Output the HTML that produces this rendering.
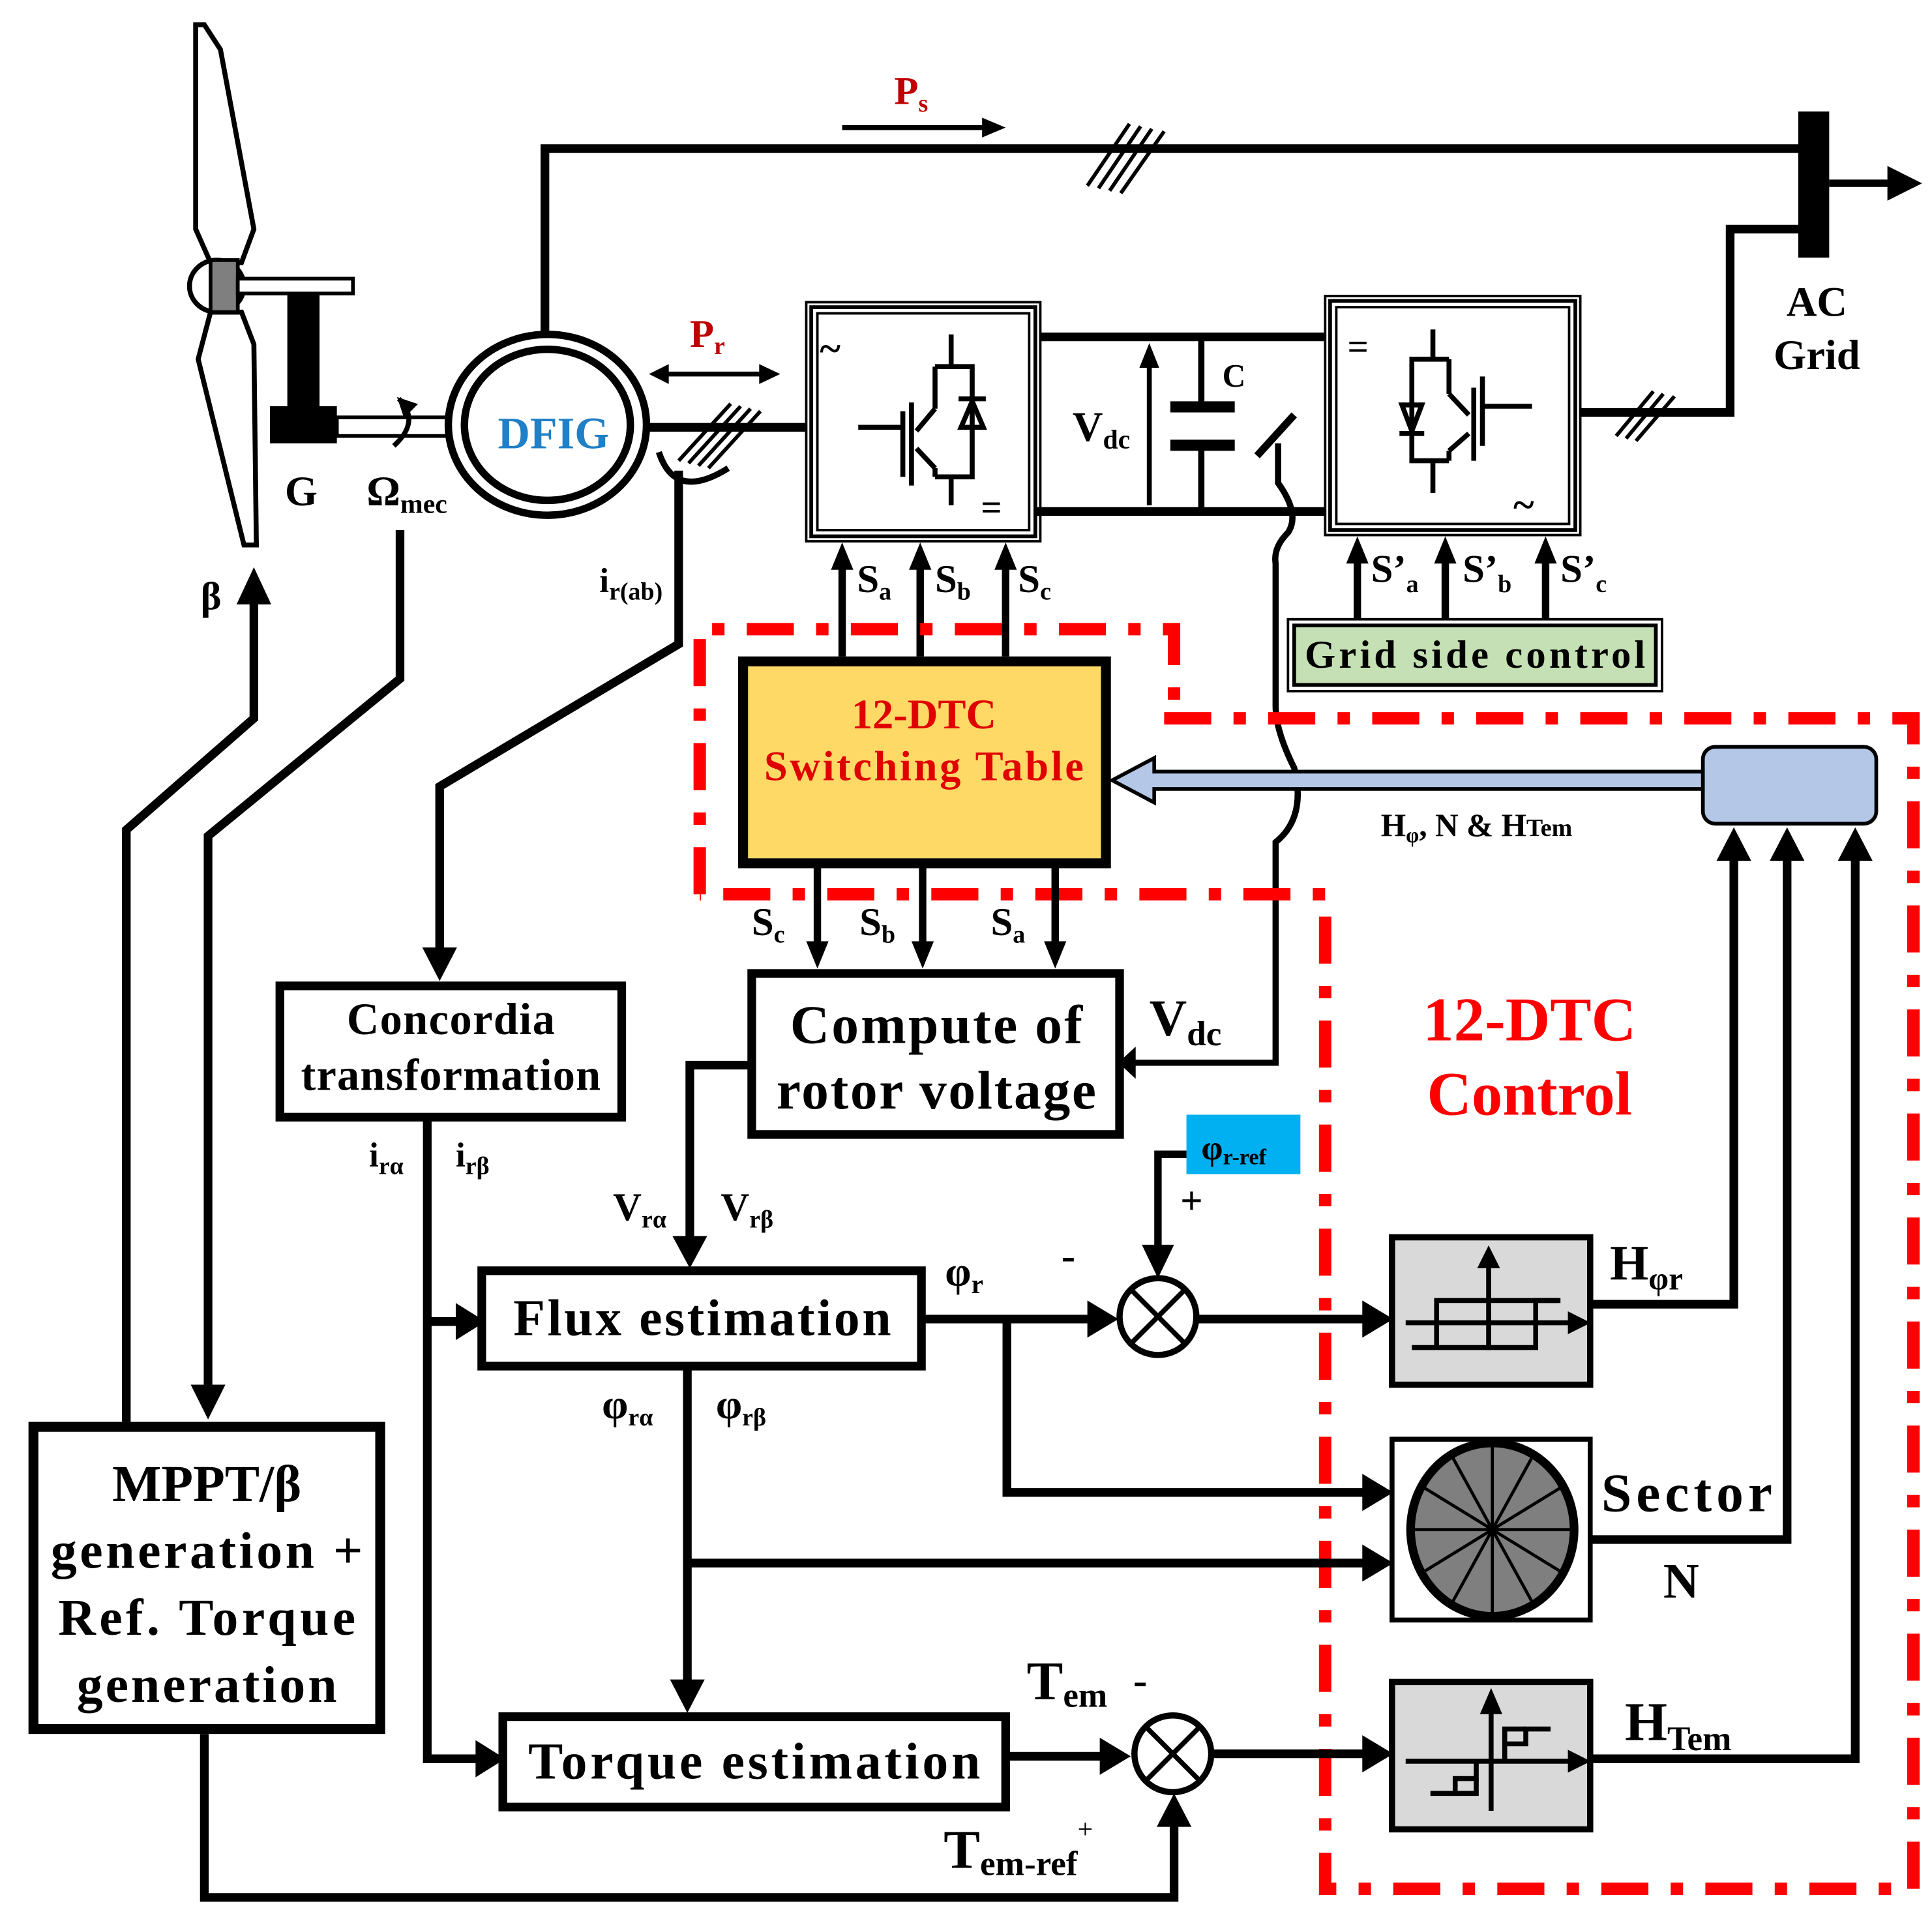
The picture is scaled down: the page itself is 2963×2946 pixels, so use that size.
<!DOCTYPE html>
<html><head><meta charset="utf-8"><style>
html,body{margin:0;padding:0;background:#fff}
svg{display:block}
text{font-family:"Liberation Serif",serif;font-weight:bold}
</style></head><body>
<svg width="2963" height="2946" viewBox="0 0 1560 1551" preserveAspectRatio="none" xmlns="http://www.w3.org/2000/svg">
<defs>
<marker id="ah" markerWidth="6" markerHeight="6" refX="5" refY="3" orient="auto" markerUnits="strokeWidth"><path d="M0,0 L6,3 L0,6 z" fill="#000"/></marker>
<marker id="ah2" markerWidth="4" markerHeight="4" refX="3.5" refY="2" orient="auto" markerUnits="strokeWidth"><path d="M0,0 L4,2 L0,4 z" fill="#000"/></marker>
</defs>
<rect width="1560" height="1551" fill="#fff"/>

<!-- Turbine -->
<polygon points="158,20 165,20 178,40 205,185 195,212 170,212 158,185" fill="#fff" stroke="#000" stroke-width="4"/>
<polygon points="170,252 195,252 205,278 207,440 197,440 160,290" fill="#fff" stroke="#000" stroke-width="4"/>
<ellipse cx="175" cy="231" rx="22" ry="21" fill="#fff" stroke="#000" stroke-width="4"/>
<rect x="170" y="210" width="22" height="42" fill="#7f7f7f" stroke="#000" stroke-width="3"/>
<rect x="192" y="225" width="93" height="12" fill="#fff" stroke="#000" stroke-width="3"/>
<rect x="232" y="237" width="26" height="95" fill="#000"/>
<rect x="218" y="328" width="54" height="30" fill="#000"/>
<rect x="272" y="337" width="105" height="15" fill="#fff" stroke="#000" stroke-width="3"/>
<text x="230" y="408" font-size="34">G</text>
<text x="296" y="408" font-size="34">Ω<tspan font-size="22" dy="6">mec</tspan></text>
<path d="M318,360 Q340,340 322,322" fill="none" stroke="#000" stroke-width="4" marker-end="url(#ah2)"/>

<!-- DFIG -->
<ellipse cx="442" cy="343" rx="80" ry="73" fill="#fff" stroke="#000" stroke-width="6"/>
<ellipse cx="442" cy="343" rx="67" ry="61" fill="#fff" stroke="#000" stroke-width="6"/>
<text x="447" y="362" font-size="36" fill="#1f7fc7" text-anchor="middle">DFIG</text>

<!-- stator line -->
<polyline points="440,270 440,120 1455,120" fill="none" stroke="#000" stroke-width="7"/>
<rect x="1452" y="90" width="25" height="118" fill="#000"/>
<line x1="1477" y1="148" x2="1528" y2="148" stroke="#000" stroke-width="6"/>
<polygon points="1524,134 1552,148 1524,162" fill="#000"/>
<text x="722" y="84" font-size="32" fill="#c00000">P<tspan font-size="20" dy="6">s</tspan></text>
<line x1="680" y1="103" x2="795" y2="103" stroke="#000" stroke-width="4"/>
<polygon points="793,95 812,103 793,111" fill="#000"/>
<g stroke="#000" stroke-width="3"><line x1="878" y1="150" x2="912" y2="100"/><line x1="887" y1="152" x2="921" y2="102"/><line x1="896" y1="154" x2="930" y2="104"/><line x1="905" y1="156" x2="940" y2="106"/></g>
<polyline points="1455,185 1397,185 1397,333 1275,333" fill="none" stroke="#000" stroke-width="7"/>
<g stroke="#000" stroke-width="3"><line x1="1305" y1="352" x2="1335" y2="316"/><line x1="1313" y1="354" x2="1343" y2="318"/><line x1="1321" y1="356" x2="1352" y2="320"/></g>
<text x="1467" y="255" font-size="34" text-anchor="middle">AC</text>
<text x="1467" y="298" font-size="34" text-anchor="middle">Grid</text>

<!-- rotor line -->
<line x1="520" y1="345" x2="655" y2="345" stroke="#000" stroke-width="7"/>
<text x="557" y="280" font-size="32" fill="#c00000">P<tspan font-size="20" dy="6">r</tspan></text>
<line x1="538" y1="302" x2="615" y2="302" stroke="#000" stroke-width="4"/>
<polygon points="540,294 524,302 540,310" fill="#000"/><polygon points="613,294 630,302 613,310" fill="#000"/>
<g stroke="#000" stroke-width="3"><line x1="548" y1="372" x2="590" y2="326"/><line x1="556" y1="374" x2="598" y2="328"/><line x1="564" y1="376" x2="606" y2="330"/><line x1="572" y1="378" x2="614" y2="332"/></g>
<path d="M532,365 Q545,405 588,378" fill="none" stroke="#000" stroke-width="5"/>
<text x="484" y="478" font-size="28">i<tspan font-size="20" dy="6">r(ab)</tspan></text>
<polyline points="548,380 548,520 355,635 355,770" fill="none" stroke="#000" stroke-width="7"/>
<polygon points="341,765 355,792 369,765" fill="#000"/>

<!-- Converter I -->
<rect x="651" y="244" width="189" height="193" fill="#fff" stroke="#000" stroke-width="2"/>
<rect x="655" y="248" width="181" height="185" fill="none" stroke="#000" stroke-width="3"/>
<rect x="660" y="253" width="171" height="175" fill="none" stroke="#000" stroke-width="2"/>
<text x="662" y="292" font-size="32" font-weight="normal">~</text>
<text x="792" y="420" font-size="30">=</text>
<g stroke="#000" stroke-width="4" fill="none">
<line x1="768" y1="270" x2="768" y2="296"/><polyline points="755,296 785,296 785,385 755,385"/><line x1="768" y1="385" x2="768" y2="408"/>
<line x1="755" y1="296" x2="755" y2="330"/><line x1="755" y1="330" x2="740" y2="348"/><line x1="740" y1="362" x2="755" y2="378"/><line x1="755" y1="378" x2="755" y2="385"/>
<line x1="736" y1="325" x2="736" y2="392"/><line x1="729" y1="332" x2="729" y2="385"/><line x1="693" y1="345" x2="729" y2="345"/>
<line x1="774" y1="322" x2="796" y2="322"/><polygon points="776,345 794,345 785,324"/>
</g>

<!-- DC link -->
<line x1="840" y1="272" x2="1070" y2="272" stroke="#000" stroke-width="7"/>
<line x1="836" y1="413" x2="1072" y2="413" stroke="#000" stroke-width="7"/>
<line x1="928" y1="408" x2="928" y2="295" stroke="#000" stroke-width="4"/>
<polygon points="920,297 928,277 936,297" fill="#000"/>
<text x="866" y="356" font-size="34">V<tspan font-size="22" dy="6">dc</tspan></text>
<line x1="970" y1="272" x2="970" y2="328" stroke="#000" stroke-width="5"/>
<rect x="945" y="324" width="52" height="9" fill="#000"/>
<rect x="945" y="355" width="52" height="9" fill="#000"/>
<line x1="970" y1="360" x2="970" y2="413" stroke="#000" stroke-width="5"/>
<text x="987" y="312" font-size="26">C</text>
<line x1="1015" y1="368" x2="1045" y2="335" stroke="#000" stroke-width="6"/>
<path d="M1032,358 L1032,390 Q1050,415 1040,430 Q1028,442 1030,455 L1030,570 Q1030,590 1045,620 Q1055,660 1030,680 L1030,858 L915,858" fill="none" stroke="#000" stroke-width="5"/>
<polygon points="917,845 903,858 917,871" fill="#000"/>

<!-- Converter II -->
<rect x="1070" y="239" width="206" height="193" fill="#fff" stroke="#000" stroke-width="2"/>
<rect x="1074" y="243" width="198" height="185" fill="none" stroke="#000" stroke-width="3"/>
<rect x="1079" y="248" width="188" height="175" fill="none" stroke="#000" stroke-width="2"/>
<text x="1088" y="290" font-size="30">=</text>
<text x="1222" y="418" font-size="32" font-weight="normal">~</text>
<g stroke="#000" stroke-width="4" fill="none">
<line x1="1157" y1="266" x2="1157" y2="290"/><polyline points="1170,290 1140,290 1140,372 1170,372"/><line x1="1157" y1="372" x2="1157" y2="398"/>
<line x1="1170" y1="290" x2="1170" y2="318"/><line x1="1170" y1="318" x2="1186" y2="335"/><line x1="1186" y1="350" x2="1170" y2="364"/><line x1="1170" y1="364" x2="1170" y2="372"/>
<line x1="1190" y1="313" x2="1190" y2="372"/><line x1="1197" y1="304" x2="1197" y2="360"/><line x1="1197" y1="328" x2="1237" y2="328"/>
<line x1="1130" y1="350" x2="1150" y2="350"/><polygon points="1132,327 1148,327 1140,348"/>
</g>

<!-- S arrows -->
<g stroke="#000" stroke-width="6">
<line x1="680" y1="530" x2="680" y2="455"/><line x1="743" y1="530" x2="743" y2="455"/><line x1="812" y1="530" x2="812" y2="455"/>
<line x1="1096" y1="500" x2="1096" y2="450"/><line x1="1167" y1="500" x2="1167" y2="450"/><line x1="1248" y1="500" x2="1248" y2="450"/>
</g>
<g fill="#000">
<polygon points="671,460 680,438 689,460"/><polygon points="734,460 743,438 752,460"/><polygon points="803,460 812,438 821,460"/>
<polygon points="1087,455 1096,433 1105,455"/><polygon points="1158,455 1167,433 1176,455"/><polygon points="1239,455 1248,433 1257,455"/>
</g>
<text x="692" y="478" font-size="32">S<tspan font-size="20" dy="6">a</tspan></text>
<text x="755" y="478" font-size="32">S<tspan font-size="20" dy="6">b</tspan></text>
<text x="822" y="478" font-size="32">S<tspan font-size="20" dy="6">c</tspan></text>
<text x="1107" y="470" font-size="32">S’<tspan font-size="20" dy="8">a</tspan></text>
<text x="1181" y="470" font-size="32">S’<tspan font-size="20" dy="8">b</tspan></text>
<text x="1260" y="470" font-size="32">S’<tspan font-size="20" dy="8">c</tspan></text>

<!-- Grid side control -->
<rect x="1040" y="500" width="302" height="58" fill="#fff" stroke="#000" stroke-width="2"/>
<rect x="1045" y="505" width="292" height="48" fill="#c5e0b4" stroke="#000" stroke-width="3"/>
<text x="1191" y="539" font-size="32" text-anchor="middle" textLength="275">Grid side control</text>

<!-- red dash-dot boundaries -->
<g fill="none" stroke="#ff0000" stroke-width="10" stroke-dasharray="38,18,10,18">
<polyline points="565,722 565,508 948,508 948,582"/>
<polyline points="940,580 1545,580 1545,1525 1070,1525 1070,722 565,722"/>
</g>

<!-- Switching table -->
<rect x="600" y="534" width="293" height="163" fill="#ffd966" stroke="#000" stroke-width="8"/>
<text x="746" y="588" font-size="34" fill="#e00000" text-anchor="middle">12-DTC</text>
<text x="746" y="630" font-size="34" fill="#e00000" text-anchor="middle" textLength="258">Switching Table</text>

<!-- blue box and arrow -->
<rect x="1375" y="603" width="140" height="62" rx="10" fill="#b4c7e7" stroke="#000" stroke-width="3"/>
<polygon points="1375,623 932,623 932,612 898,630 932,648 932,637 1375,637" fill="#b4c7e7" stroke="#000" stroke-width="3"/>
<text x="1115" y="675" font-size="26" font-weight="normal">H<tspan font-size="17" dy="5">φ</tspan><tspan dy="-5">, N &amp; H</tspan><tspan font-size="20">Tem</tspan></text>

<!-- Sc Sb Sa down -->
<g stroke="#000" stroke-width="6"><line x1="660" y1="697" x2="660" y2="765"/><line x1="745" y1="697" x2="745" y2="765"/><line x1="852" y1="697" x2="852" y2="765"/></g>
<g fill="#000"><polygon points="651,760 660,782 669,760"/><polygon points="736,760 745,782 754,760"/><polygon points="843,760 852,782 861,760"/></g>
<text x="607" y="755" font-size="32">S<tspan font-size="20" dy="6">c</tspan></text>
<text x="694" y="755" font-size="32">S<tspan font-size="20" dy="6">b</tspan></text>
<text x="800" y="755" font-size="32">S<tspan font-size="20" dy="6">a</tspan></text>

<!-- Compute box -->
<rect x="607" y="786" width="297" height="130" fill="#fff" stroke="#000" stroke-width="7"/>
<text x="756" y="842" font-size="44" text-anchor="middle" textLength="236">Compute of</text>
<text x="756" y="895" font-size="44" text-anchor="middle" textLength="258">rotor voltage</text>
<text x="928" y="836" font-size="42">V<tspan font-size="28" dy="8">dc</tspan></text>

<!-- Concordia -->
<rect x="226" y="796" width="276" height="106" fill="#fff" stroke="#000" stroke-width="7"/>
<text x="364" y="835" font-size="36" text-anchor="middle" textLength="168">Concordia</text>
<text x="364" y="880" font-size="36" text-anchor="middle" textLength="242">transformation</text>
<text x="298" y="942" font-size="28">i<tspan font-size="20" dy="6">rα</tspan></text>
<text x="368" y="942" font-size="28">i<tspan font-size="20" dy="6">rβ</tspan></text>
<polyline points="345,902 345,1420 390,1420" fill="none" stroke="#000" stroke-width="7"/>
<line x1="345" y1="1067" x2="372" y2="1067" stroke="#000" stroke-width="7"/>
<polygon points="368,1052 392,1067 368,1082" fill="#000"/>
<polygon points="384,1405 408,1420 384,1435" fill="#000"/>

<!-- Vr lines -->
<polyline points="607,860 557,860 557,1005" fill="none" stroke="#000" stroke-width="7"/>
<polygon points="543,998 557,1024 571,998" fill="#000"/>
<text x="495" y="985" font-size="32">V<tspan font-size="20" dy="6">rα</tspan></text>
<text x="582" y="985" font-size="32">V<tspan font-size="20" dy="6">rβ</tspan></text>

<!-- Flux -->
<rect x="389" y="1026" width="355" height="77" fill="#fff" stroke="#000" stroke-width="7"/>
<text x="567" y="1078" font-size="42" text-anchor="middle" textLength="305">Flux estimation</text>
<text x="486" y="1145" font-size="34">φ<tspan font-size="20" dy="6">rα</tspan></text>
<text x="578" y="1145" font-size="34">φ<tspan font-size="20" dy="6">rβ</tspan></text>
<text x="763" y="1038" font-size="34">φ<tspan font-size="22" dy="6">r</tspan></text>
<text x="857" y="1025" font-size="34">-</text>
<line x1="744" y1="1065" x2="885" y2="1065" stroke="#000" stroke-width="7"/>
<polygon points="878,1050 903,1065 878,1080" fill="#000"/>
<polyline points="813,1065 813,1205 1105,1205" fill="none" stroke="#000" stroke-width="7"/>
<polygon points="1100,1190 1125,1205 1100,1220" fill="#000"/>
<polyline points="555,1103 555,1362" fill="none" stroke="#000" stroke-width="7"/>
<polygon points="541,1356 555,1383 569,1356" fill="#000"/>
<line x1="555" y1="1262" x2="1105" y2="1262" stroke="#000" stroke-width="7"/>
<polygon points="1100,1247 1125,1262 1100,1277" fill="#000"/>

<!-- flux sum -->
<circle cx="935" cy="1063" r="31" fill="#fff" stroke="#000" stroke-width="5"/>
<line x1="914" y1="1042" x2="956" y2="1084" stroke="#000" stroke-width="4"/><line x1="956" y1="1042" x2="914" y2="1084" stroke="#000" stroke-width="4"/>
<rect x="958" y="900" width="92" height="48" fill="#00b0f0"/>
<text x="970" y="936" font-size="28">φ<tspan font-size="18" dy="4">r-ref</tspan></text>
<polyline points="958,932 935,932 935,1010" fill="none" stroke="#000" stroke-width="6"/>
<polygon points="922,1005 935,1032 948,1005" fill="#000"/>
<text x="953" y="980" font-size="32" font-weight="normal">+</text>
<line x1="966" y1="1065" x2="1105" y2="1065" stroke="#000" stroke-width="7"/>
<polygon points="1100,1050 1125,1065 1100,1080" fill="#000"/>

<!-- flux hysteresis -->
<rect x="1124" y="999" width="160" height="119" fill="#d9d9d9" stroke="#000" stroke-width="5"/>
<g stroke="#000" stroke-width="4" fill="none">
<line x1="1135" y1="1068" x2="1270" y2="1068"/><polygon points="1268,1062 1280,1068 1268,1074" fill="#000"/>
<line x1="1202" y1="1090" x2="1202" y2="1020"/><polygon points="1196,1022 1202,1010 1208,1022" fill="#000"/>
<polyline points="1140,1088 1240,1088 1240,1050 1258,1050"/><polyline points="1260,1050 1160,1050 1160,1088"/>
</g>
<text x="1300" y="1033" font-size="40">H<tspan font-size="26" dy="8">φr</tspan></text>
<polyline points="1284,1053 1400,1053 1400,690" fill="none" stroke="#000" stroke-width="7"/>
<polygon points="1386,695 1400,668 1414,695" fill="#000"/>

<!-- sector -->
<rect x="1124" y="1162" width="160" height="146" fill="#fff" stroke="#000" stroke-width="4"/>
<ellipse cx="1205" cy="1235" rx="66" ry="70" fill="#7f7f7f" stroke="#000" stroke-width="7"/>
<g stroke="#000" stroke-width="2.5">
<line x1="1139" y1="1235" x2="1271" y2="1235"/><line x1="1205" y1="1165" x2="1205" y2="1305"/>
<line x1="1148" y1="1200" x2="1262" y2="1270"/><line x1="1148" y1="1270" x2="1262" y2="1200"/>
<line x1="1172" y1="1175" x2="1238" y2="1295"/><line x1="1172" y1="1295" x2="1238" y2="1175"/>
</g>
<text x="1293" y="1220" font-size="44" textLength="138">Sector</text>
<text x="1343" y="1290" font-size="40">N</text>
<polyline points="1284,1243 1443,1243 1443,690" fill="none" stroke="#000" stroke-width="7"/>
<polygon points="1429,695 1443,668 1457,695" fill="#000"/>

<!-- torque -->
<rect x="406" y="1386" width="406" height="73" fill="#fff" stroke="#000" stroke-width="7"/>
<text x="609" y="1436" font-size="42" text-anchor="middle" textLength="365">Torque estimation</text>
<line x1="812" y1="1418" x2="895" y2="1418" stroke="#000" stroke-width="7"/>
<polygon points="888,1403 913,1418 888,1433" fill="#000"/>
<text x="829" y="1372" font-size="44">T<tspan font-size="28" dy="6">em</tspan></text>
<text x="915" y="1368" font-size="34">-</text>
<circle cx="947" cy="1416" r="31" fill="#fff" stroke="#000" stroke-width="5"/>
<line x1="926" y1="1395" x2="968" y2="1437" stroke="#000" stroke-width="4"/><line x1="968" y1="1395" x2="926" y2="1437" stroke="#000" stroke-width="4"/>
<text x="762" y="1508" font-size="44">T<tspan font-size="28" dy="6">em-ref</tspan><tspan font-size="22" dy="-30" font-weight="normal">+</tspan></text>
<line x1="978" y1="1416" x2="1105" y2="1416" stroke="#000" stroke-width="7"/>
<polygon points="1100,1401 1125,1416 1100,1431" fill="#000"/>
<rect x="1124" y="1358" width="160" height="119" fill="#d9d9d9" stroke="#000" stroke-width="5"/>
<g stroke="#000" stroke-width="4" fill="none">
<line x1="1135" y1="1422" x2="1270" y2="1422"/><polygon points="1268,1416 1280,1422 1268,1428" fill="#000"/>
<line x1="1204" y1="1462" x2="1204" y2="1380"/><polygon points="1198,1382 1204,1368 1210,1382" fill="#000"/>
<polyline points="1215,1422 1215,1408 1232,1408 1232,1396 1252,1396"/><polyline points="1215,1408 1215,1396 1232,1396"/>
<polyline points="1192,1422 1192,1436 1175,1436 1175,1448 1155,1448"/><polyline points="1192,1436 1192,1448 1175,1448"/>
</g>
<text x="1312" y="1405" font-size="44">H<tspan font-size="28" dy="8">Tem</tspan></text>
<polyline points="1284,1420 1498,1420 1498,690" fill="none" stroke="#000" stroke-width="7"/>
<polygon points="1484,695 1498,668 1512,695" fill="#000"/>

<!-- 12-DTC Control label -->
<text x="1235" y="840" font-size="50" fill="#ff0000" text-anchor="middle">12-DTC</text>
<text x="1235" y="900" font-size="50" fill="#ff0000" text-anchor="middle">Control</text>

<!-- MPPT -->
<rect x="27" y="1152" width="280" height="244" fill="#fff" stroke="#000" stroke-width="8"/>
<text x="167" y="1212" font-size="42" text-anchor="middle">MPPT/β</text>
<text x="167" y="1266" font-size="42" text-anchor="middle" textLength="252">generation +</text>
<text x="167" y="1320" font-size="42" text-anchor="middle" textLength="240">Ref. Torque</text>
<text x="167" y="1374" font-size="42" text-anchor="middle" textLength="210">generation</text>

<!-- beta and omega lines -->
<polyline points="102,1148 102,670 205,580 205,482" fill="none" stroke="#000" stroke-width="7"/>
<polygon points="191,488 205,458 219,488" fill="#000"/>
<text x="162" y="492" font-size="32">β</text>
<polyline points="323,428 323,548 168,675 168,1122" fill="none" stroke="#000" stroke-width="7"/>
<polygon points="154,1118 168,1146 182,1118" fill="#000"/>
<polyline points="165,1400 165,1532 948,1532 948,1470" fill="none" stroke="#000" stroke-width="7"/>
<polygon points="934,1475 948,1448 962,1475" fill="#000"/>
</svg>
</body></html>
